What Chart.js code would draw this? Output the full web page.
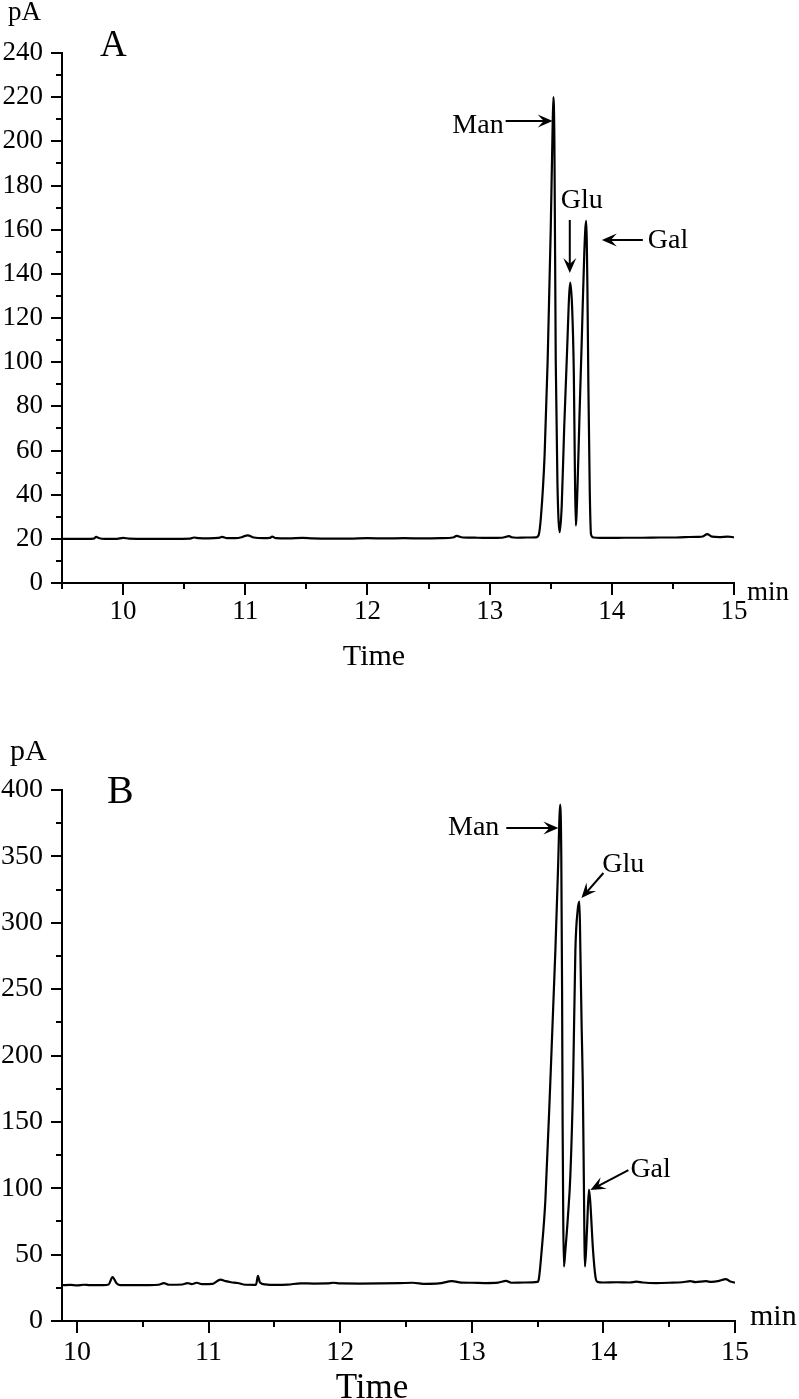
<!DOCTYPE html>
<html>
<head>
<meta charset="utf-8">
<script src="https://cdn.jsdelivr.net/npm/chart.js@4.4.0/dist/chart.umd.min.js"></script>
<style>
  body { margin: 0; background: #fff; }
  canvas { display: block; }
</style>
</head>
<body>
<canvas id="chartA" width="799" height="700"></canvas>
<canvas id="chartB" width="799" height="699"></canvas>
<script>
// ---- panel A ----
var timeA = [
  9.50, 9.60, 9.70, 9.76, 9.78, 9.80, 9.85, 9.95, 10.00, 10.05,
  10.20, 10.40, 10.55, 10.58, 10.62, 10.70, 10.78, 10.81, 10.85, 10.92,
  10.97, 11.02, 11.07, 11.15, 11.20, 11.22, 11.25, 11.35, 11.47, 11.55,
  11.70, 11.85, 12.00, 12.15, 12.30, 12.45, 12.60, 12.70, 12.73, 12.78,
  12.90, 13.00, 13.10, 13.16, 13.18, 13.22, 13.30, 13.38, 13.40, 13.42,
  13.45, 13.475, 13.50, 13.515, 13.522, 13.53, 13.541, 13.555, 13.574, 13.59,
  13.61, 13.631, 13.66, 13.675, 13.689, 13.697, 13.705, 13.72, 13.735, 13.754,
  13.775, 13.79, 13.80, 13.808, 13.82, 13.83, 13.85, 13.90, 14.00, 14.10,
  14.25, 14.40, 14.50, 14.60, 14.70, 14.75, 14.78, 14.82, 14.88, 14.95,
  15.00
];
var signalA = [
  20.0, 20.0, 20.0, 20.1, 20.9, 20.4, 20.0, 20.0, 20.4, 20.1,
  20.0, 20.0, 20.1, 20.6, 20.3, 20.2, 20.4, 20.9, 20.3, 20.3,
  20.7, 21.6, 20.6, 20.3, 20.4, 21.0, 20.3, 20.2, 20.4, 20.2,
  20.1, 20.1, 20.3, 20.2, 20.3, 20.2, 20.3, 20.6, 21.3, 20.6,
  20.5, 20.4, 20.5, 21.2, 20.7, 20.5, 20.6, 20.7, 21.5, 30,
  58, 101, 160, 205, 220, 200, 101, 45, 23, 35,
  70, 101, 136, 125, 95, 55, 26, 45, 75, 110,
  150, 164, 135, 90, 40, 22, 20.6, 20.4, 20.4, 20.5,
  20.5, 20.6, 20.6, 20.8, 20.9, 21.2, 22.1, 21.0, 20.8, 21.0,
  20.7
];
var xTicksA = [10, 11, 12, 13, 14, 15];
var yTicksA = [0, 20, 40, 60, 80, 100, 120, 140, 160, 180, 200, 220, 240];

// ---- panel B ----
var timeB = [
  9.886, 9.95, 10.00, 10.05, 10.10, 10.20, 10.24, 10.27, 10.30, 10.33,
  10.45, 10.55, 10.62, 10.66, 10.70, 10.80, 10.84, 10.87, 10.91, 10.95,
  11.03, 11.09, 11.13, 11.17, 11.22, 11.28, 11.36, 11.375, 11.39, 11.43,
  11.50, 11.60, 11.70, 11.80, 11.90, 11.95, 12.00, 12.15, 12.30, 12.45,
  12.55, 12.65, 12.75, 12.85, 12.92, 13.00, 13.10, 13.20, 13.26, 13.30,
  13.40, 13.50, 13.51, 13.53, 13.559, 13.597, 13.635, 13.655, 13.672, 13.68,
  13.686, 13.69, 13.695, 13.70, 13.71, 13.73, 13.749, 13.77, 13.787, 13.805,
  13.818, 13.825, 13.835, 13.843, 13.85, 13.86, 13.875, 13.89, 13.90, 13.92,
  13.94, 13.955, 14.00, 14.10, 14.20, 14.25, 14.30, 14.40, 14.50, 14.60,
  14.66, 14.70, 14.78, 14.82, 14.88, 14.93, 14.96, 15.00
];
var signalB = [
  27.0, 27.2, 26.8, 27.3, 27.0, 27.0, 27.5, 33.0, 28.5, 27.0,
  27.0, 27.0, 27.3, 28.5, 27.3, 27.5, 28.6, 27.8, 28.8, 27.8,
  28.0, 31.2, 30.0, 29.2, 28.6, 27.3, 27.2, 34.0, 29.0, 27.6,
  27.2, 27.4, 28.4, 28.2, 28.3, 28.8, 28.3, 28.2, 28.3, 28.5,
  28.8, 28.0, 28.3, 30.0, 28.9, 28.8, 28.6, 28.9, 30.2, 28.8,
  29.0, 29.5, 32, 52, 91, 181, 279, 340, 389, 350,
  250, 150, 75, 41, 52, 78, 110, 181, 279, 310,
  316, 279, 220, 181, 120, 41, 68, 99, 90, 55,
  33, 29.5, 29.0, 29.2, 29.0, 29.6, 29.0, 28.6, 28.8, 29.2,
  30.0, 29.3, 30.0, 29.4, 30.2, 31.6, 30.0, 28.9
];
var xTicksB = [10, 11, 12, 13, 14, 15];
var yTicksB = [0, 50, 100, 150, 200, 250, 300, 350, 400];

var SERIF = "'Liberation Serif', 'Times New Roman', serif";
Chart.defaults.font.family = SERIF;
Chart.defaults.color = '#000';

// minor / major tick marks, drawn outside the axes
var axisTicks = {
  id: 'axisTicks',
  afterDraw: function (chart, args, o) {
    var ctx = chart.ctx, xs = chart.scales.x, ys = chart.scales.y;
    ctx.save();
    ctx.strokeStyle = '#000';
    ctx.lineWidth = 2;
    ctx.beginPath();
    var i0 = Math.ceil(xs.min / o.xMinor - 1e-6), i1 = Math.floor(xs.max / o.xMinor + 1e-6);
    for (var i = i0; i <= i1; i++) {
      var v = i * o.xMinor;
      var px = Math.round(xs.getPixelForValue(v));
      var major = Math.abs(v - Math.round(v)) < 1e-6;
      ctx.moveTo(px, xs.top);
      ctx.lineTo(px, xs.top + (major ? 12 : 6));
    }
    var n = Math.round((ys.max - ys.min) / o.yMinor);
    for (var j = 0; j <= n; j++) {
      var val = ys.min + j * o.yMinor;
      var py = Math.round(ys.getPixelForValue(val));
      var isMaj = j % 2 === 0;
      ctx.moveTo(ys.right, py);
      ctx.lineTo(ys.right - (isMaj ? 11 : 6), py);
    }
    ctx.stroke();
    ctx.restore();
  }
};

// peak labels with arrows + free text (units, panel letter, axis title)
var peakNotes = {
  id: 'peakNotes',
  afterDraw: function (chart, args, o) {
    var ctx = chart.ctx, xs = chart.scales.x, ys = chart.scales.y;
    ctx.save();
    ctx.fillStyle = '#000';
    ctx.strokeStyle = '#000';
    (o.notes || []).forEach(function (n) {
      var x0 = xs.getPixelForValue(n.from[0]), y0 = ys.getPixelForValue(n.from[1]);
      var x1 = xs.getPixelForValue(n.to[0]), y1 = ys.getPixelForValue(n.to[1]);
      var ang = Math.atan2(y1 - y0, x1 - x0);
      ctx.lineWidth = 2;
      ctx.beginPath();
      ctx.moveTo(x0, y0);
      ctx.lineTo(x1 - 8 * Math.cos(ang), y1 - 8 * Math.sin(ang));
      ctx.stroke();
      ctx.save();
      ctx.translate(x1, y1);
      ctx.rotate(ang);
      ctx.beginPath();
      ctx.moveTo(0, 0);
      ctx.lineTo(-15, -6.5);
      ctx.lineTo(-9, 0);
      ctx.lineTo(-15, 6.5);
      ctx.closePath();
      ctx.fill();
      ctx.restore();
      ctx.font = o.noteSize + 'px ' + SERIF;
      ctx.textAlign = n.align;
      ctx.textBaseline = 'alphabetic';
      ctx.fillText(n.label, xs.getPixelForValue(n.text[0]), ys.getPixelForValue(n.text[1]));
    });
    (o.texts || []).forEach(function (t) {
      ctx.font = t.size + 'px ' + SERIF;
      ctx.textAlign = t.align || 'left';
      ctx.textBaseline = 'alphabetic';
      ctx.fillText(t.label, t.x, t.y);
    });
    ctx.restore();
  }
};

function makeChart(id, times, values, xMin, yMax, xTicks, yTicks, tickSize, xPad, pad, xH, plugins) {
  var pts = times.map(function (t, i) { return { x: t, y: values[i] }; });
  return new Chart(document.getElementById(id), {
    type: 'line',
    data: {
      datasets: [{
        data: pts,
        borderColor: '#000',
        borderWidth: 2.2,
        pointRadius: 0,
        cubicInterpolationMode: 'monotone',
        fill: false
      }]
    },
    options: {
      responsive: false,
      animation: false,
      layout: { padding: pad },
      plugins: Object.assign({ legend: { display: false }, tooltip: { enabled: false } }, plugins),
      scales: {
        x: {
          type: 'linear',
          min: xMin,
          max: 15,
          grid: { display: false, drawTicks: false },
          border: { display: true, color: '#000', width: 2 },
          afterBuildTicks: function (s) { s.ticks = xTicks.map(function (v) { return { value: v }; }); },
          afterFit: function (s) { s.height = xH; },
          ticks: { autoSkip: false, maxRotation: 0, padding: xPad, font: { size: tickSize }, color: '#000' }
        },
        y: {
          min: 0,
          max: yMax,
          grid: { display: false, drawTicks: false },
          border: { display: true, color: '#000', width: 2 },
          afterBuildTicks: function (s) { s.ticks = yTicks.map(function (v) { return { value: v }; }); },
          afterFit: function (s) { s.width = 62; },
          ticks: { padding: 19, font: { size: tickSize }, color: '#000' }
        }
      }
    },
    plugins: [axisTicks, peakNotes]
  });
}

makeChart('chartA', timeA, signalA, 9.5, 240, xTicksA, yTicksA, 27, 13,
  { top: 53, left: 0, right: 65, bottom: 0 }, 117, {
    axisTicks: { xMinor: 0.5, yMinor: 10 },
    peakNotes: {
      noteSize: 28,
      notes: [
        { label: 'Man', align: 'right', text: [13.115, 204], from: [13.131, 209.2], to: [13.516, 209.2] },
        { label: 'Glu', align: 'center', text: [13.754, 169.8], from: [13.656, 164.4], to: [13.656, 140.4] },
        { label: 'Gal', align: 'left', text: [14.295, 151.7], from: [14.254, 155.3], to: [13.918, 155.3] }
      ],
      texts: [
        { label: 'pA', x: 8, y: 20, size: 27 },
        { label: 'A', x: 100, y: 56, size: 37 },
        { label: 'min', x: 747, y: 600, size: 27 },
        { label: 'Time', x: 374, y: 665, size: 30, align: 'center' }
      ]
    }
  });

makeChart('chartB', timeB, signalB, 9.886, 400, xTicksB, yTicksB, 28, 15,
  { top: 90, left: 0, right: 64, bottom: 0 }, 78, {
    axisTicks: { xMinor: 0.5, yMinor: 25 },
    peakNotes: {
      noteSize: 28,
      notes: [
        { label: 'Man', align: 'right', text: [13.209, 366], from: [13.262, 371.4], to: [13.658, 371.4] },
        { label: 'Glu', align: 'left', text: [13.992, 338.2], from: [14.0, 337.5], to: [13.833, 318.6] },
        { label: 'Gal', align: 'left', text: [14.205, 108.5], from: [14.19, 113.7], to: [13.901, 98.7] }
      ],
      texts: [
        { label: 'pA', x: 10, y: 60, size: 30 },
        { label: 'B', x: 107, y: 103, size: 40 },
        { label: 'min', x: 750, y: 625, size: 30 },
        { label: 'Time', x: 372, y: 698, size: 35, align: 'center' }
      ]
    }
  });
</script>
</body>
</html>
